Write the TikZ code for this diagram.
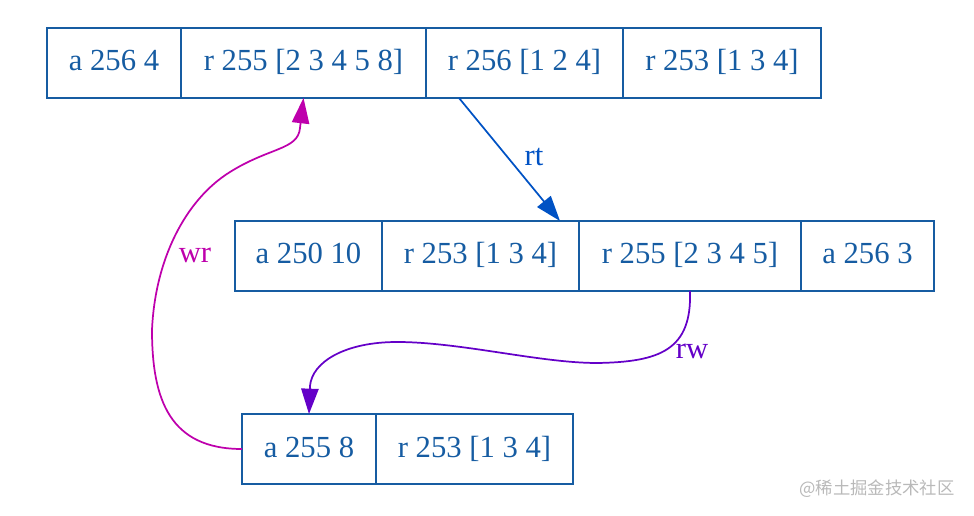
\documentclass[tikz,border=0pt]{standalone}
\usepackage{fontspec}
\setmainfont{Liberation Serif}
\newfontfamily\cjkfont{Noto Sans CJK SC}
\usetikzlibrary{positioning, arrows.meta}

\definecolor{recblue}{RGB}{22,92,162}
\definecolor{rtblue}{RGB}{0,82,196}
\definecolor{rwviolet}{RGB}{100,0,200}
\definecolor{wrmagenta}{RGB}{190,0,172}

\begin{document}
\begin{tikzpicture}[x=0.75pt, y=-0.75pt,
  cell/.style={draw=recblue, line width=1.5pt, rectangle, minimum height=52.5pt,
    outer sep=0pt, inner sep=0pt, text height=16pt, text depth=4pt,
    text=recblue, font=\fontsize{23}{26}\selectfont},
  link/.style={line width=1.3pt, -{Triangle[length=19pt, width=13pt]}},
  lbl/.style={font=\fontsize{23}{26}\selectfont}]
  \useasboundingbox (0,0) rectangle (974,516);

  % Nodes
  \node[cell, minimum width=100.5pt, anchor=north west] (t1) at (47,28) {a 256 4};
  \node[cell, minimum width=183.75pt, right=0pt of t1] (t2) {r 255 [2 3 4 5 8]};
  \node[cell, minimum width=147.75pt, right=0pt of t2] (t3) {r 256 [1 2 4]};
  \node[cell, minimum width=148.5pt, right=0pt of t3] (t4) {r 253 [1 3 4]};

  \node[cell, minimum width=110.25pt, anchor=north west] (m1) at (235,221) {a 250 10};
  \node[cell, minimum width=147.75pt, right=0pt of m1] (m2) {r 253 [1 3 4]};
  \node[cell, minimum width=166.5pt, right=0pt of m2] (m3) {r 255 [2 3 4 5]};
  \node[cell, minimum width=99.75pt, right=0pt of m3] (m4) {a 256 3};

  \node[cell, minimum width=100.5pt, anchor=north west] (b1) at (242,414) {a 255 8};
  \node[cell, minimum width=147.75pt, right=0pt of b1] (b2) {r 253 [1 3 4]};

  % Edges
  \draw[link, rtblue] ([xshift=24.75pt]t3.south west) -- ([xshift=-14.25pt]m2.north east);
  \node[lbl, text=rtblue] (rtlabel) at (534,157) {rt};
  \draw[link, rwviolet] (m3.south) .. controls (692,350) and (660,362) .. (597,363)
    .. controls (540,363) and (460,342) .. (397,342)
    .. controls (345,342) and (312,362) .. (310,386) -- (b1.north);
  \node[lbl, text=rwviolet] (rwlabel) at (692,351) {rw};
  \draw[link, wrmagenta] (b1.west) .. controls (170,449) and (152,400) .. (152,330)
    .. controls (155,260) and (185,200) .. (230,172)
    .. controls (270,147) and (298,150) .. (300,128) -- (t2.south);
  \node[lbl, text=wrmagenta] (wrlabel) at (195,255) {wr};

  \node[text=gray!55, font=\cjkfont\fontsize{13}{15}\selectfont] (mark) at (877,489) {@稀土掘金技术社区};
\end{tikzpicture}
\end{document}
